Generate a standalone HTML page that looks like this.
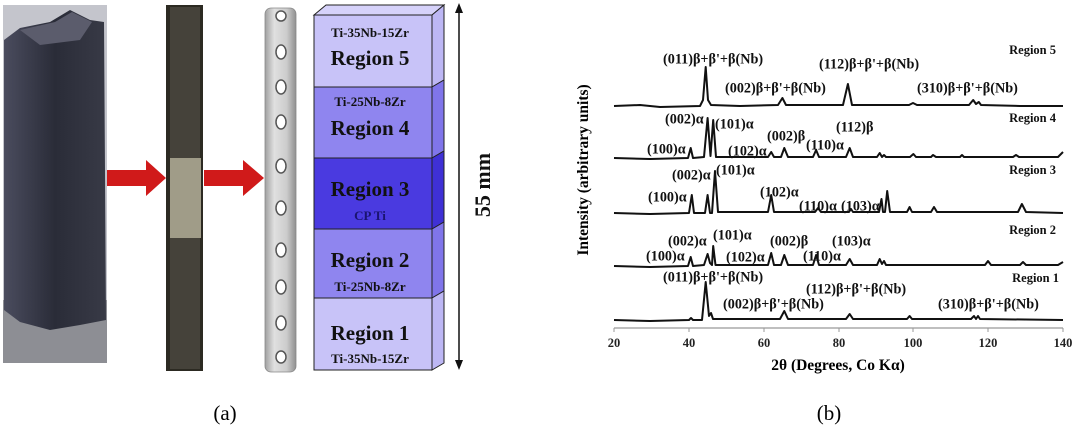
<!DOCTYPE html>
<html><head><meta charset="utf-8"><style>
html,body{margin:0;padding:0;background:#fff;width:1080px;height:429px;overflow:hidden}
svg{display:block}
</style></head><body>
<svg width="1080" height="429" viewBox="0 0 1080 429" xmlns="http://www.w3.org/2000/svg" font-family="Liberation Serif, serif" font-weight="bold">
<defs>
<linearGradient id="ph" x1="0" x2="1" y1="0" y2="0">
<stop offset="0" stop-color="#4a4c5e"/><stop offset="0.5" stop-color="#2a2c38"/><stop offset="1" stop-color="#383a46"/>
</linearGradient>
<linearGradient id="pl" x1="0" x2="1" y1="0" y2="0">
<stop offset="0" stop-color="#a0a0a0"/><stop offset="0.3" stop-color="#e0e0e0"/><stop offset="0.7" stop-color="#cccccc"/><stop offset="1" stop-color="#909090"/>
</linearGradient>
</defs>
<!-- photo 1 -->
<rect x="3" y="5" width="104" height="358" fill="#c4c5cc"/>
<rect x="3" y="300" width="104" height="63" fill="#8d8e94"/>
<path d="M4 40 L20 28 L50 22 L70 10 L90 20 L104 22 L106 320 L80 325 L50 330 L20 322 L4 310 Z" fill="url(#ph)"/>
<path d="M20 30 L55 22 L72 12 L92 22 L80 40 L40 45 Z" fill="#5b5c6c"/>
<!-- arrows -->
<polygon points="107,170 146,170 146,160 166,178 146,196 146,186 107,186" fill="#d01a1a"/>
<polygon points="204,170 243,170 243,160 264,178 243,196 243,186 204,186" fill="#d01a1a"/>
<!-- bar 2 -->
<rect x="166" y="5" width="37" height="366" fill="#2c2a22"/>
<rect x="170" y="7" width="30" height="362" fill="#45423a"/>
<rect x="170" y="158" width="31" height="80" fill="#a09c88"/>
<!-- plate -->
<rect x="265" y="8" width="31" height="364" rx="6" fill="url(#pl)" stroke="#888" stroke-width="0.8"/>
<g fill="#fff" stroke="#555" stroke-width="1.5">
<ellipse cx="281" cy="16" rx="5" ry="5"/><ellipse cx="281" cy="52" rx="5" ry="7"/><ellipse cx="281" cy="87" rx="5" ry="7"/><ellipse cx="281" cy="122" rx="5" ry="7"/><ellipse cx="281" cy="166" rx="5" ry="7"/><ellipse cx="281" cy="208" rx="5" ry="7"/><ellipse cx="281" cy="250" rx="5" ry="7"/><ellipse cx="281" cy="287" rx="5" ry="7"/><ellipse cx="281" cy="323" rx="5" ry="7"/><ellipse cx="281" cy="357" rx="5" ry="6"/>
</g>
<!-- block -->
<g stroke="#222" stroke-width="1">
<polygon points="314,15 326,5 444,5 432,15" fill="#d6d2fa"/>
<rect x="314" y="15" width="118" height="72" fill="#c8c3f8"/>
<polygon points="432,15 444,5 444,80 432,87" fill="#bdb7f4"/>
<rect x="314" y="87" width="118" height="71" fill="#8f85ef"/>
<polygon points="432,87 444,80 444,151 432,158" fill="#8075ea"/>
<rect x="314" y="158" width="118" height="71" fill="#4a3ae0"/>
<polygon points="432,158 444,151 444,222 432,229" fill="#3f30d5"/>
<rect x="314" y="229" width="118" height="69" fill="#8f85ef"/>
<polygon points="432,229 444,222 444,291 432,298" fill="#8075ea"/>
<rect x="314" y="298" width="118" height="72" fill="#c8c3f8"/>
<polygon points="432,298 444,291 444,363 432,370" fill="#bdb7f4"/>
</g>
<g text-anchor="middle" fill="#111">
<text x="370" y="37" font-size="13">Ti-35Nb-15Zr</text>
<text x="370" y="65" font-size="21">Region 5</text>
<text x="370" y="106" font-size="13">Ti-25Nb-8Zr</text>
<text x="370" y="135" font-size="21">Region 4</text>
<text x="370" y="196" font-size="21">Region 3</text>
<text x="370" y="220" font-size="13" fill="#1a1470">CP Ti</text>
<text x="370" y="267" font-size="21">Region 2</text>
<text x="370" y="291" font-size="13">Ti-25Nb-8Zr</text>
<text x="370" y="340" font-size="21">Region 1</text>
<text x="370" y="363" font-size="13">Ti-35Nb-15Zr</text>
</g>
<line x1="459" y1="10" x2="459" y2="363" stroke="#111" stroke-width="1.5"/>
<polygon points="459,3 455,13 463,13" fill="#111"/><polygon points="459,370 455,360 463,360" fill="#111"/>
<text transform="translate(490,185) rotate(-90)" text-anchor="middle" font-size="22" fill="#111">55 mm</text>
<text x="225" y="420" font-size="21" font-weight="normal" text-anchor="middle">(a)</text>

<!-- XRD -->
<line x1="614" y1="328" x2="1063" y2="328" stroke="#999" stroke-width="1.2"/>
<g stroke="#999"><line x1="614" y1="328" x2="614" y2="332"/><line x1="689" y1="328" x2="689" y2="332"/><line x1="764" y1="328" x2="764" y2="332"/><line x1="839" y1="328" x2="839" y2="332"/><line x1="913" y1="328" x2="913" y2="332"/><line x1="988" y1="328" x2="988" y2="332"/><line x1="1063" y1="328" x2="1063" y2="332"/></g>
<g font-size="12.5" text-anchor="middle" fill="#222">
<text x="614" y="347">20</text><text x="689" y="347">40</text><text x="764" y="347">60</text><text x="839" y="347">80</text><text x="913" y="347">100</text><text x="988" y="347">120</text><text x="1063" y="347">140</text>
</g>
<text x="838" y="370" font-size="15.5" text-anchor="middle">2θ (Degrees, Co Kα)</text>
<text transform="translate(588,170) rotate(-90)" font-size="15.5" text-anchor="middle">Intensity (arbitrary units)</text>
<g fill="none" stroke="#111" stroke-width="2" stroke-linejoin="round">
<polyline points="614,106 640,105 660,107 700,106 703,100 705.7,67 708,100 711,105 740,106 778,105 782.4,98 786,105 843,105 847.9,84 852,105 909,105 913,103 917,105 969,105 973.2,100 976,104 978.8,102 981,105 1020,106 1063,106"/>
<polyline points="614,158 650,159 688,158 690.7,148 693,158 704,157 707.6,118 710.5,156 713.2,120 716,157 768,157 771.2,152 774,157 781,157 784.3,148 788,157 813,157 816.1,150 819,157 846,157 849.7,148 853,157 877,157 879.7,153 882,157 884,155 886,157 910,157 913.4,154 916,157 931,157 933,155 936,157 960,157 962,155 964,157 1013,157 1016,155 1019,157 1058,157 1063,152"/>
<polyline points="614,213 650,214 689,213 691.8,195 694,213 705,213 707.6,195 710,213 712,213 715,171 718,212 768,212 771.2,195 774,212 815,212 818,208 821,212 849,212 851,209 853,212 879,212 881.5,199 883,212 885,212 887.2,191 890,212 907,212 909.6,207 912,212 931,212 934,207 937,212 1018,212 1021.9,204 1026,212 1063,213"/>
<polyline points="614,266 650,267 688,266 690.7,257 693,266 704,265 707.6,254 710,263 712,265 713.2,246 715.5,265 768,265 771.2,253 774,265 781,265 784.3,255 788,265 813,265 816.1,255 819,265 846,265 849.7,259 853,265 877,265 879.7,259 882,264 884,261 886,265 985,265 988,261 991,265 1020,265 1023,262 1026,265 1058,265 1063,262"/>
<polyline points="614,320 650,321 689,320 691,318 693,320 702,320 705.7,282 709,316 711,313 713,319 780,319 784.3,311 788,319 846,319 849.7,314 853,319 907,319 909.6,316 912,319 971,319 974,316 976,319 978,316 980,319 1063,320"/>
</g>
<g font-size="12.5" fill="#111" text-anchor="end">
<text x="1056" y="54">Region 5</text><text x="1056" y="122">Region 4</text><text x="1056" y="174">Region 3</text><text x="1056" y="234">Region 2</text><text x="1059" y="282">Region 1</text>
</g>
<g font-size="14.2" fill="#111" dominant-baseline="middle">
<text x="663" y="60">(011)β+β'+β(Nb)</text>
<text x="819" y="65">(112)β+β'+β(Nb)</text>
<text x="725" y="89">(002)β+β'+β(Nb)</text>
<text x="917" y="89">(310)β+β'+β(Nb)</text>
<text x="665" y="120">(002)α</text><text x="715" y="125">(101)α</text><text x="836" y="128">(112)β</text><text x="767" y="137">(002)β</text><text x="647" y="150">(100)α</text><text x="728" y="152">(102)α</text><text x="806" y="146">(110)α</text>
<text x="672" y="176">(002)α</text><text x="716" y="171">(101)α</text><text x="648" y="198">(100)α</text><text x="760" y="193">(102)α</text><text x="799" y="207">(110)α</text><text x="841" y="207">(103)α</text>
<text x="668" y="242">(002)α</text><text x="713" y="236">(101)α</text><text x="770" y="242">(002)β</text><text x="832" y="242">(103)α</text><text x="646" y="257">(100)α</text><text x="726" y="258">(102)α</text><text x="803" y="257">(110)α</text>
<text x="663" y="278">(011)β+β'+β(Nb)</text>
<text x="806" y="290">(112)β+β'+β(Nb)</text>
<text x="723" y="305">(002)β+β'+β(Nb)</text>
<text x="938" y="305">(310)β+β'+β(Nb)</text>
</g>
<text x="829" y="420" font-size="21" font-weight="normal" text-anchor="middle">(b)</text>
</svg>
</body></html>
